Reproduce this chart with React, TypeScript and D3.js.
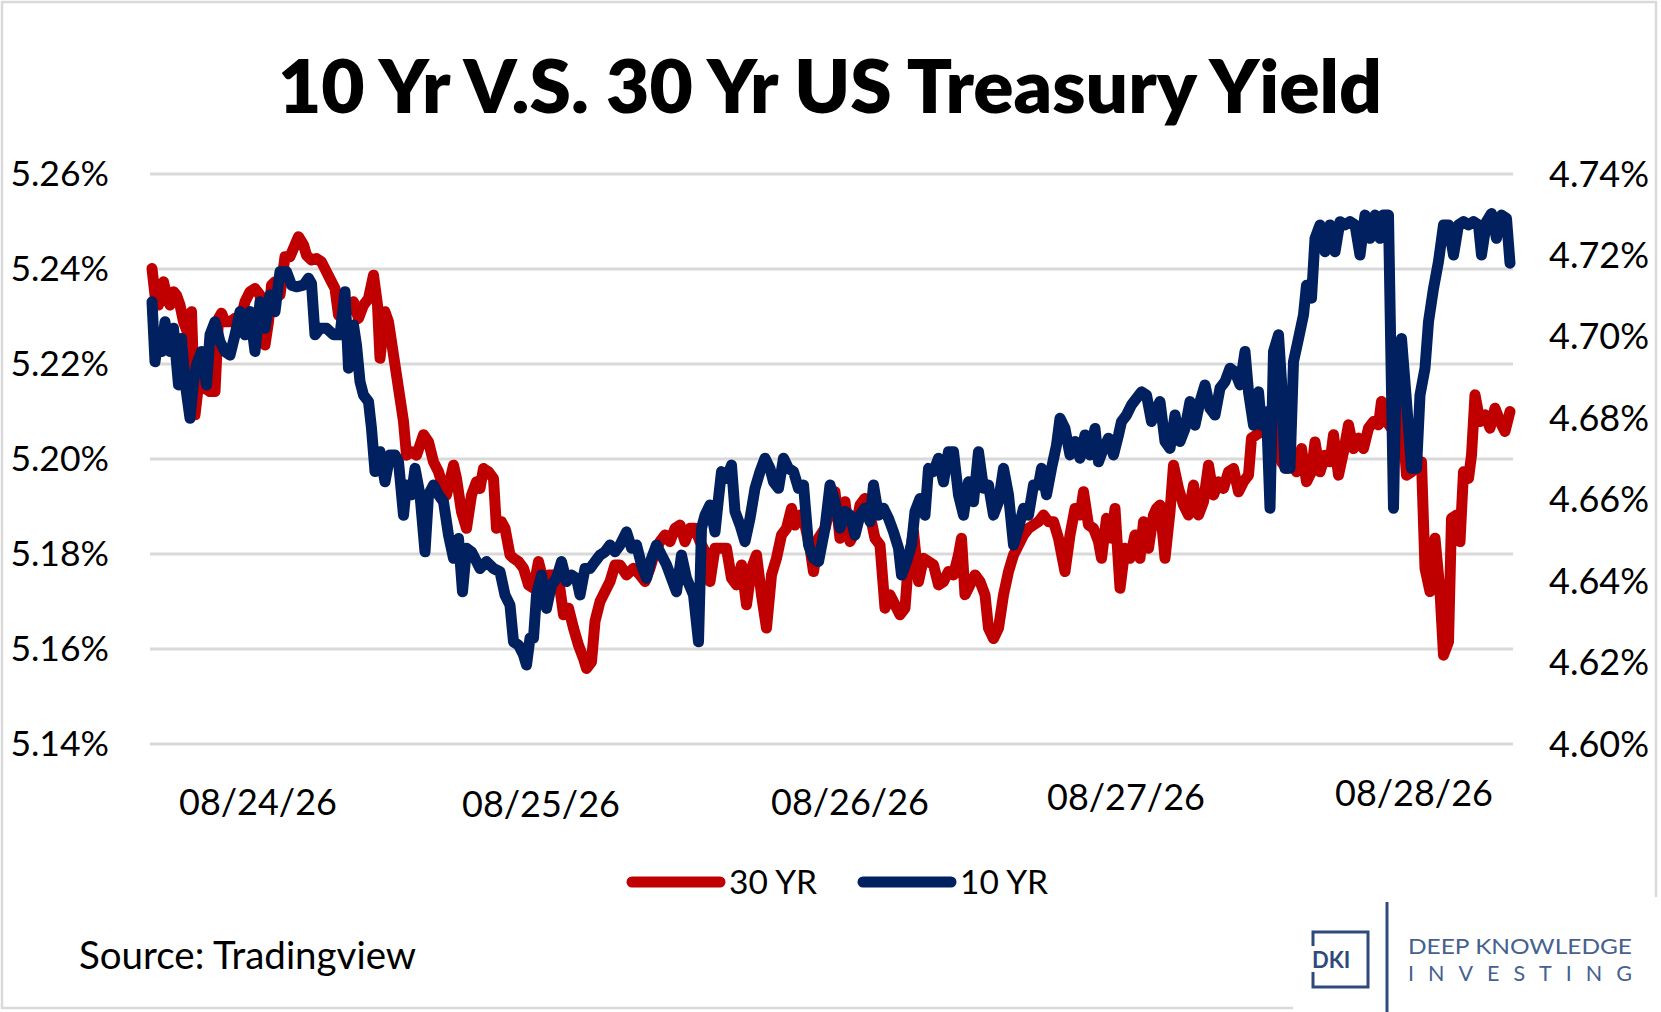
import * as d3 from 'd3'

const W = 1661
const H = 1012

// x = intraday bar index (5 days of sessions), y = yield in %
const BAR_MAX = 271.6
const DATE_LABELS = ['08/24/26', '08/25/26', '08/26/26', '08/27/26', '08/28/26']
const DATE_BARS = [21.2, 77.8, 139.6, 194.8, 252.4]
const LEFT_TICKS = [5.14, 5.16, 5.18, 5.2, 5.22, 5.24, 5.26]
const RIGHT_TICKS = [4.6, 4.62, 4.64, 4.66, 4.68, 4.7, 4.72, 4.74]
const SERIES_NAMES = ['30 YR', '10 YR']

// 30 YR (left axis)
const YR30: [number, number][] = [
  [0, 5.2401], [0.6, 5.2345], [1.3, 5.2324], [2.3, 5.2373], [2.9, 5.2345], [3.6, 5.2324], [4.3, 5.2352], [4.9, 5.2345],
  [5.6, 5.2324], [6.3, 5.2289], [7.3, 5.2261], [7.9, 5.231], [8.6, 5.2093], [9.3, 5.2156], [9.9, 5.217], [10.6, 5.2149],
  [11.6, 5.2142], [12.6, 5.2142], [13.3, 5.2296], [13.9, 5.2307], [14.6, 5.2289], [15.6, 5.2289], [16.6, 5.2296], [17.6, 5.2289],
  [18.6, 5.2331], [19.6, 5.2352], [20.6, 5.2359], [21.6, 5.2345], [22.6, 5.224], [23.3, 5.2289], [23.9, 5.2366], [24.6, 5.2373],
  [25.6, 5.2345], [26.6, 5.2426], [27.6, 5.2426], [28.6, 5.2451], [29.3, 5.2468], [30.3, 5.2451], [30.9, 5.2429], [31.9, 5.2419],
  [32.9, 5.2422], [33.9, 5.2415], [34.9, 5.2394], [35.9, 5.2373], [36.6, 5.2359], [37.3, 5.2303], [38.3, 5.2296], [39.3, 5.2317],
  [40.3, 5.2331], [41.3, 5.2296], [42.3, 5.2324], [43.3, 5.2338], [44.3, 5.2387], [45.1, 5.2324], [45.6, 5.2212], [46.6, 5.231],
  [47.3, 5.2289], [48.3, 5.2219], [49.3, 5.2149], [50.3, 5.2079], [50.9, 5.2008], [51.9, 5.2015], [52.9, 5.2008], [54.3, 5.2051],
  [55.3, 5.2036], [56.3, 5.1994], [57.3, 5.1973], [57.9, 5.1952], [58.9, 5.1924], [60.3, 5.1987], [60.9, 5.1959], [61.9, 5.1889],
  [62.9, 5.1854], [63.9, 5.1924], [64.9, 5.1952], [65.6, 5.1938], [66.3, 5.198], [67.3, 5.1973], [68.3, 5.1959], [68.9, 5.1854],
  [69.9, 5.1868], [70.6, 5.1854], [71.6, 5.1798], [72.3, 5.1791], [73.3, 5.1784], [74.3, 5.177], [75.3, 5.1735], [76.3, 5.1728],
  [77.3, 5.1784], [78.3, 5.1742], [79.3, 5.1756], [80.3, 5.1756], [81.3, 5.1749], [82.3, 5.1672], [83.3, 5.1686], [84.3, 5.1644],
  [85.3, 5.1608], [86.3, 5.158], [86.9, 5.1559], [87.9, 5.1573], [88.6, 5.1658], [89.6, 5.17], [90.6, 5.1721], [91.6, 5.1742],
  [92.6, 5.1777], [93.6, 5.1777], [94.9, 5.1756], [96.3, 5.177], [97.6, 5.1756], [98.6, 5.1742], [99.6, 5.177], [100.6, 5.1805],
  [101.6, 5.1826], [102.6, 5.184], [103.6, 5.1826], [104.6, 5.1854], [105.6, 5.1861], [106.6, 5.1826], [107.6, 5.1854], [108.6, 5.1854],
  [109.6, 5.1826], [110.6, 5.1805], [111.6, 5.1742], [112.6, 5.1812], [113.6, 5.1812], [114.9, 5.1812], [115.9, 5.1749], [116.9, 5.1735],
  [117.9, 5.1777], [118.9, 5.1693], [119.9, 5.177], [120.9, 5.1798], [121.9, 5.1714], [122.9, 5.1644], [123.9, 5.1756], [124.9, 5.1791],
  [125.9, 5.184], [126.9, 5.1854], [127.9, 5.1896], [128.6, 5.1861], [129.6, 5.1882], [130.6, 5.1861], [131.6, 5.1812], [132.3, 5.1763],
  [133.3, 5.1833], [134.6, 5.1854], [135.6, 5.1896], [136.6, 5.1931], [137.6, 5.1833], [138.6, 5.191], [139.6, 5.1826], [140.6, 5.1847],
  [141.6, 5.1903], [142.6, 5.1917], [143.6, 5.1882], [144.6, 5.1833], [145.6, 5.1819], [146.6, 5.1686], [147.6, 5.1714], [148.6, 5.1693],
  [149.6, 5.1672], [150.6, 5.1686], [151.3, 5.1784], [152.3, 5.1847], [153.3, 5.1742], [154.3, 5.1791], [155.3, 5.1784], [156.3, 5.1777],
  [157.3, 5.1735], [158.3, 5.1742], [159.3, 5.1763], [160.3, 5.1756], [161.3, 5.1798], [161.9, 5.1833], [162.6, 5.1714], [163.6, 5.1735],
  [164.6, 5.1756], [165.6, 5.1742], [166.6, 5.1714], [167.3, 5.1644], [168.3, 5.1622], [169.3, 5.1644], [170.3, 5.1714], [171.3, 5.1763],
  [172.3, 5.1798], [173.3, 5.1819], [174.3, 5.184], [175.3, 5.1854], [176.3, 5.1861], [177.3, 5.1868], [178.3, 5.1882], [179.3, 5.1868],
  [180.3, 5.1868], [181.3, 5.1833], [182.6, 5.1763], [183.6, 5.184], [184.6, 5.1896], [185.6, 5.1882], [186.3, 5.1931], [187.3, 5.1861],
  [188.3, 5.1854], [189.3, 5.1826], [189.9, 5.1791], [190.9, 5.1875], [191.9, 5.1833], [192.6, 5.1896], [193.6, 5.1728], [194.6, 5.1812],
  [195.6, 5.1791], [196.6, 5.184], [197.6, 5.1791], [198.3, 5.1868], [199.3, 5.1812], [200.3, 5.1882], [200.9, 5.1896], [201.6, 5.1903],
  [202.6, 5.1791], [203.6, 5.1889], [204.3, 5.1987], [205.3, 5.1938], [206.3, 5.1903], [207.3, 5.1882], [208.3, 5.1945], [209.3, 5.1882],
  [210.3, 5.191], [211.3, 5.1987], [212.3, 5.1924], [213.3, 5.1952], [214.3, 5.1938], [215.3, 5.1973], [216.3, 5.198], [217.3, 5.1931],
  [218.3, 5.1952], [219.3, 5.1966], [219.9, 5.2044], [220.9, 5.2051], [221.9, 5.2058], [222.9, 5.2051], [223.9, 5.2065], [224.9, 5.2072],
  [225.9, 5.1994], [226.9, 5.198], [227.9, 5.1994], [228.9, 5.1973], [229.9, 5.2022], [230.9, 5.1952], [231.9, 5.1973], [232.6, 5.2036],
  [233.6, 5.1973], [234.6, 5.2008], [235.6, 5.1994], [236.3, 5.2051], [237.3, 5.1966], [238.3, 5.2015], [239.3, 5.2072], [240.3, 5.2022],
  [241.3, 5.2044], [242.3, 5.2022], [243.3, 5.2065], [244.3, 5.2079], [245.3, 5.2072], [245.9, 5.2121], [246.9, 5.2079], [247.9, 5.2065],
  [248.9, 5.21], [249.9, 5.2107], [250.9, 5.1966], [251.9, 5.1973], [252.9, 5.1987], [253.9, 5.1994], [254.6, 5.177], [255.6, 5.1721],
  [256.6, 5.1833], [257.6, 5.1721], [258.3, 5.1587], [259.3, 5.1615], [259.9, 5.1875], [260.9, 5.1882], [261.6, 5.1826], [262.3, 5.1973],
  [263.3, 5.1959], [263.9, 5.2008], [264.6, 5.2135], [265.6, 5.2079], [266.6, 5.2093], [267.6, 5.2065], [268.6, 5.2107], [269.6, 5.2079],
  [270.6, 5.2058], [271.6, 5.21],
]

// 10 YR (right axis)
const YR10: [number, number][] = [
  [0, 4.7086], [0.6, 4.6939], [1.3, 4.7005], [1.9, 4.6964], [2.6, 4.7037], [3.6, 4.6964], [4.3, 4.7021], [5.3, 4.6882],
  [5.9, 4.6996], [6.6, 4.689], [7.6, 4.68], [8.3, 4.689], [8.9, 4.6931], [9.9, 4.6964], [10.9, 4.6882], [11.6, 4.7005],
  [12.6, 4.7037], [13.6, 4.6988], [14.6, 4.6964], [15.6, 4.6955], [16.6, 4.7005], [17.6, 4.7062], [18.6, 4.7005], [19.6, 4.7062],
  [20.6, 4.6964], [21.6, 4.7086], [22.6, 4.7021], [23.6, 4.7103], [24.6, 4.7062], [25.6, 4.716], [26.9, 4.716], [27.9, 4.7127],
  [28.9, 4.7123], [30.3, 4.7127], [31.3, 4.7144], [31.9, 4.7131], [32.6, 4.7005], [33.6, 4.7021], [34.9, 4.7021], [36.3, 4.7005],
  [37.6, 4.7005], [38.6, 4.7111], [39.3, 4.6923], [40.3, 4.7029], [40.9, 4.698], [41.6, 4.689], [42.3, 4.6857], [43.3, 4.6841],
  [43.9, 4.6775], [44.6, 4.6669], [45.6, 4.6718], [46.6, 4.6644], [47.6, 4.671], [48.6, 4.671], [49.3, 4.6693], [50.3, 4.6562],
  [50.9, 4.6636], [51.9, 4.6612], [52.6, 4.6677], [53.6, 4.6612], [54.6, 4.6472], [55.3, 4.6612], [56.3, 4.6636], [57.3, 4.6612],
  [58.3, 4.6595], [59.3, 4.6513], [60.3, 4.6456], [61.3, 4.6505], [62.1, 4.6374], [62.9, 4.6481], [63.9, 4.6472], [64.9, 4.6448],
  [65.6, 4.6431], [66.9, 4.6448], [68.3, 4.6431], [69.6, 4.6423], [70.6, 4.6366], [71.6, 4.6341], [72.3, 4.6251], [73.3, 4.6243],
  [74.3, 4.6219], [74.9, 4.6194], [75.6, 4.626], [76.3, 4.626], [76.9, 4.6366], [77.9, 4.6415], [78.9, 4.6333], [79.9, 4.639],
  [80.9, 4.6407], [81.9, 4.6448], [82.9, 4.6399], [83.9, 4.6415], [84.9, 4.6407], [85.6, 4.6366], [86.6, 4.6431], [87.6, 4.6431],
  [88.6, 4.6448], [89.6, 4.6464], [90.6, 4.6472], [91.6, 4.6489], [92.6, 4.6472], [93.6, 4.6489], [94.9, 4.6521], [95.9, 4.6481],
  [96.9, 4.6489], [97.9, 4.644], [98.9, 4.6407], [99.9, 4.6456], [100.9, 4.6489], [101.9, 4.6464], [102.9, 4.644], [103.9, 4.6407],
  [104.9, 4.6374], [105.9, 4.6464], [106.9, 4.6407], [108.3, 4.6366], [109.3, 4.6251], [109.9, 4.653], [110.6, 4.6562], [111.6, 4.6587],
  [112.6, 4.6521], [113.3, 4.6603], [113.9, 4.6669], [114.9, 4.6652], [115.9, 4.6685], [116.6, 4.6571], [117.6, 4.6538], [118.6, 4.6497],
  [119.6, 4.6554], [120.6, 4.6628], [121.6, 4.6669], [122.6, 4.6702], [123.6, 4.6677], [124.3, 4.6644], [125.3, 4.6628], [126.3, 4.6702],
  [127.3, 4.6677], [128.3, 4.6669], [129.3, 4.6628], [130.3, 4.6636], [131.3, 4.6489], [132.3, 4.6456], [133.3, 4.6448], [134.6, 4.653],
  [135.6, 4.6636], [136.6, 4.6595], [137.6, 4.653], [138.6, 4.6571], [139.6, 4.6562], [140.6, 4.6513], [141.6, 4.6562], [142.6, 4.6579],
  [143.6, 4.6546], [144.3, 4.6636], [145.3, 4.6562], [146.3, 4.6579], [147.3, 4.6554], [148.3, 4.6521], [149.3, 4.6481], [149.9, 4.6415],
  [150.9, 4.6448], [151.9, 4.6489], [152.6, 4.6571], [153.6, 4.6603], [154.6, 4.6562], [155.3, 4.6677], [156.3, 4.6669], [157.3, 4.6702],
  [158.3, 4.6644], [159.3, 4.6718], [160.3, 4.6718], [161.3, 4.6612], [162.3, 4.6562], [163.3, 4.6644], [164.3, 4.6595], [165.3, 4.6718],
  [166.3, 4.6628], [167.3, 4.6636], [168.3, 4.6562], [169.3, 4.6595], [170.3, 4.6677], [171.3, 4.6612], [172.3, 4.6489], [173.3, 4.653],
  [174.3, 4.6579], [175.3, 4.6562], [176.3, 4.6636], [177.3, 4.6636], [177.9, 4.6677], [178.9, 4.6612], [179.9, 4.6677], [180.9, 4.6734],
  [181.6, 4.68], [182.6, 4.6775], [183.6, 4.671], [184.6, 4.6743], [185.6, 4.6702], [186.6, 4.6759], [187.6, 4.671], [188.6, 4.6775],
  [189.3, 4.6693], [190.3, 4.6726], [191.3, 4.6751], [192.3, 4.671], [193.3, 4.6759], [193.9, 4.6792], [194.9, 4.6808], [195.9, 4.6833],
  [196.9, 4.6849], [197.9, 4.6865], [198.9, 4.6857], [199.9, 4.6792], [200.9, 4.6824], [201.6, 4.6841], [202.6, 4.6743], [203.6, 4.6726],
  [204.6, 4.6808], [205.6, 4.6743], [206.6, 4.6775], [207.6, 4.6841], [208.6, 4.6783], [209.6, 4.6841], [210.6, 4.6882], [211.6, 4.6824],
  [212.6, 4.6808], [213.6, 4.6874], [214.6, 4.689], [215.6, 4.6923], [216.6, 4.6914], [217.6, 4.6882], [218.6, 4.6964], [219.3, 4.6865],
  [220.3, 4.6783], [221.3, 4.6865], [221.9, 4.6783], [222.9, 4.6816], [223.6, 4.6579], [224.3, 4.6964], [225.3, 4.7005], [225.9, 4.689],
  [226.6, 4.6677], [227.6, 4.6677], [228.3, 4.6939], [229.3, 4.6996], [230.3, 4.7054], [230.9, 4.7127], [231.9, 4.7095], [232.6, 4.7242],
  [233.6, 4.7275], [234.6, 4.7209], [235.6, 4.7275], [236.6, 4.7209], [237.6, 4.7283], [238.6, 4.7275], [239.6, 4.7283], [240.6, 4.7275],
  [241.6, 4.7201], [242.6, 4.7299], [243.6, 4.7242], [244.6, 4.7299], [245.6, 4.7242], [246.3, 4.7299], [247.3, 4.7299], [248.3, 4.6579],
  [248.9, 4.6955], [249.9, 4.6996], [250.9, 4.6841], [251.9, 4.6677], [252.9, 4.6677], [253.6, 4.6857], [254.6, 4.6923], [255.3, 4.7037],
  [256.3, 4.7119], [257.3, 4.7185], [258.3, 4.7275], [259.3, 4.7275], [260.3, 4.7201], [261.3, 4.7275], [262.3, 4.7283], [263.3, 4.7275],
  [264.3, 4.7283], [265.3, 4.7275], [265.9, 4.7201], [266.9, 4.7283], [267.9, 4.7303], [268.9, 4.7242], [269.9, 4.7299], [270.9, 4.7291],
  [271.6, 4.7181],
]

const RED = '#c00000'
const NAVY = '#002060'
const GRID = '#d9d9d9'
const LOGO = '#2f4a7a'
const FONT = 'Lato, "Open Sans", sans-serif'
const PLOT = { left: 150, right: 1513, top: 174, bottom: 744 }
// the date labels sit at slightly different heights in the original
const DATE_LABEL_Y = [802, 804, 802, 797, 793]

export default function App() {
  const x = d3.scaleLinear().domain([0, BAR_MAX]).range([152, 1510])
  const yL = d3.scaleLinear().domain([5.14, 5.26]).range([PLOT.bottom, PLOT.top])
  const yR = d3.scaleLinear().domain([4.6, 4.74]).range([PLOT.bottom, PLOT.top])

  const line30 = d3.line<[number, number]>().x((d) => x(d[0])).y((d) => yL(d[1]))
  const line10 = d3.line<[number, number]>().x((d) => x(d[0])).y((d) => yR(d[1]))

  return (
    <>
      <style>{`body{margin:0;background:#fff}`}</style>
      <svg width={W} height={H} style={{ display: 'block', fontFamily: FONT }}>
        <rect x={0} y={0} width={W} height={H} fill="#fff" />
        <rect x={2} y={2} width={1654} height={1006} fill="none" stroke={GRID} strokeWidth={2.5} />

        <text x={830} y={113} textAnchor="middle" fontSize={73} fontWeight={800} fill="#000"
          textLength={1104} lengthAdjust="spacingAndGlyphs">
          10 Yr V.S. 30 Yr US Treasury Yield
        </text>

        {/* gridlines follow the left axis */}
        {LEFT_TICKS.map((t) => (
          <line key={t} x1={PLOT.left} x2={PLOT.right} y1={yL(t)} y2={yL(t)} stroke={GRID} strokeWidth={3} />
        ))}

        {LEFT_TICKS.map((t) => (
          <text key={t} x={109} y={yL(t)} dy="0.35em" textAnchor="end" fontSize={35.5} fill="#000">
            {t.toFixed(2)}%
          </text>
        ))}
        {RIGHT_TICKS.map((t) => (
          <text key={t} x={1549} y={yR(t)} dy="0.35em" textAnchor="start" fontSize={36} fill="#000">
            {t.toFixed(2)}%
          </text>
        ))}

        {DATE_LABELS.map((lbl, i) => (
          <text key={lbl} x={x(DATE_BARS[i])} y={DATE_LABEL_Y[i]} dy="0.35em" textAnchor="middle" fontSize={36} fill="#000">
            {lbl}
          </text>
        ))}

        <path d={line30(YR30) ?? ''} fill="none" stroke={RED} strokeWidth={11} strokeLinejoin="round" strokeLinecap="round" />
        <path d={line10(YR10) ?? ''} fill="none" stroke={NAVY} strokeWidth={11} strokeLinejoin="round" strokeLinecap="round" />

        {/* legend */}
        {SERIES_NAMES.map((name, i) => {
          const lx = i === 0 ? 632 : 863
          return (
            <g key={name}>
              <line x1={lx} x2={lx + 88} y1={882} y2={882} stroke={i === 0 ? RED : NAVY} strokeWidth={11} strokeLinecap="round" />
              <text x={lx + 97} y={882} dy="0.35em" fontSize={33.5} fill="#000">{name}</text>
            </g>
          )
        })}

        <text x={79} y={956} dy="0.35em" fontSize={38.5} fill="#000">Source: Tradingview</text>

        {/* logo */}
        <rect x={1293} y={897} width={368} height={115} fill="#fff" />
        <rect x={1313} y={932} width={55} height={55} fill="none" stroke={LOGO} strokeWidth={3} />
        <rect x={1308} y={946} width={12} height={26} fill="#fff" />
        <text x={1312} y={960} dy="0.35em" fontSize={22} fontWeight={700} fill={LOGO}>DKI</text>
        <line x1={1387} x2={1387} y1={902} y2={1012} stroke={LOGO} strokeWidth={3} />
        <text x={1408} y={946} dy="0.35em" fontSize={22} fill="#44618f" textLength={224} lengthAdjust="spacingAndGlyphs">
          DEEP KNOWLEDGE
        </text>
        <text x={1408} y={973} dy="0.35em" fontSize={21.5} fill="#44618f" textLength={224} lengthAdjust="spacing">
          INVESTING
        </text>
      </svg>
    </>
  )
}
